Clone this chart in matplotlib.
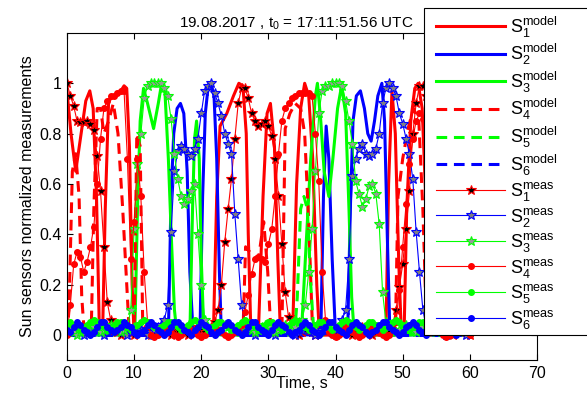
import numpy as np
import matplotlib
matplotlib.use("Agg")
import matplotlib.pyplot as plt
from matplotlib.patches import Rectangle

plt.rcParams['font.family'] = ['Liberation Sans', 'DejaVu Sans']
plt.rcParams['mathtext.fontset'] = 'custom'
plt.rcParams['mathtext.rm'] = 'Liberation Sans'
plt.rcParams['mathtext.it'] = 'Liberation Sans'

# Model curves (knots: time in s, normalized value)
t_s1_model = [0, 0.6, 1.3, 2.0, 2.8, 3.4, 3.9, 4.4, 4.8, 5.3, 5.7, 6.2, 7.0, 7.8, 8.5, 8.9, 9.3, 9.7, 10.0,
              21.8, 22.3, 22.8, 23.8, 24.8, 25.6, 26.2, 26.7, 27.0, 27.4, 28.5, 29.2, 29.8, 30.3, 30.9, 31.4, 31.8,
              33.6, 34.2, 34.8, 35.4, 36.0, 36.6, 37.2, 37.6, 47.5, 47.9, 48.4, 48.9, 49.4, 49.8, 50.2, 50.6,
              51.2, 51.8, 52.3, 52.9, 53.5, 54.0, 60]
s1_model = [0.97, 0.80, 0.65, 0.78, 0.93, 0.97, 0.90, 0.55, 0.05, 0.0, 0.5, 0.93, 0.95, 0.96, 0.99, 0.98, 0.75, 0.2, 0.0,
            0.0, 0.55, 0.83, 0.88, 0.95, 1.0, 0.99, 0.8, 0.4, 0.0, 0.0, 0.55, 0.88, 0.92, 0.75, 0.3, 0.0,
            0.0, 0.6, 0.9, 1.0, 0.95, 0.7, 0.2, 0.0, 0.0, 0.6, 0.97, 0.8, 0.3, 0.0, 0.0, 0.5,
            0.85, 0.98, 1.0, 0.9, 0.5, 0.0, 0.0]

t_s2_model = [0, 15.1, 15.5, 15.9, 16.4, 16.9, 17.4, 17.9, 18.3, 18.8, 19.8, 20.2, 20.6, 21.0, 21.4, 21.9, 22.3,
              22.7, 23.0, 37.8, 38.2, 38.6, 39.0, 39.5, 40.0, 41.8, 42.2, 42.6, 43.1, 43.7, 44.3, 44.8, 45.3,
              45.8, 46.3, 46.9, 47.3, 47.7, 48.1, 60]
s2_model = [0, 0, 0.55, 0.8, 0.9, 0.92, 0.88, 0.65, 0.25, 0, 0, 0.55, 0.88, 0.98, 1.0, 0.95, 0.7,
            0.25, 0, 0, 0.55, 0.83, 0.7, 0.3, 0, 0, 0.5, 0.85, 0.95, 0.97, 0.9, 0.8, 0.77,
            0.85, 0.95, 1.0, 0.85, 0.4, 0, 0]

t_s3_model = [0, 10.1, 10.5, 10.9, 11.4, 12.0, 12.9, 13.6, 14.1, 14.6, 15.1, 15.6, 16.0, 16.4, 18.3, 18.7, 19.0,
              19.3, 19.7, 20.0, 20.4, 34.9, 35.5, 36.3, 37.0, 37.3, 37.8, 38.3, 39.0, 39.6, 40.3, 40.9, 41.5,
              42.0, 42.4, 42.8, 60]
s3_model = [0, 0, 0.5, 0.85, 0.98, 0.92, 0.82, 0.92, 1.0, 0.96, 0.7, 0.35, 0.1, 0, 0, 0.5, 0.78,
            0.85, 0.7, 0.3, 0, 0, 0.3, 0.7, 0.95, 1.0, 0.85, 0.65, 0.55, 0.7, 0.9, 0.99, 0.88,
            0.5, 0.15, 0, 0]

t_s4_model = [0, 0.3, 0.8, 1.3, 1.8, 2.2, 2.6, 3.6, 4.0, 4.5, 5.0, 5.5, 6.2, 6.9, 7.6, 8.3, 8.9, 9.3, 10.0,
              10.4, 10.9, 11.3, 26.2, 26.6, 27.5, 28.5, 29.3, 29.9, 30.4, 32.0, 32.5, 33.2, 34.0, 34.8, 35.4,
              36.0, 36.6, 48.9, 49.3, 50.0, 50.8, 51.6, 52.4, 53.0, 53.6, 60]
s4_model = [0, 0.1, 0.65, 0.72, 0.55, 0.15, 0, 0, 0.5, 0.9, 0.9, 0.8, 0.85, 0.92, 0.8, 0.5, 0.2, 0, 0,
            0.8, 0.75, 0, 0, 0.35, 0.32, 0.3, 0.45, 0.25, 0, 0, 0.82, 0.88, 0.92, 0.9, 0.8,
            0.45, 0, 0, 0.55, 0.7, 0.82, 0.9, 0.85, 0.5, 0, 0]

t_s5_model = [0, 33.9, 34.3, 34.8, 35.3, 35.8, 36.3, 36.8, 60]
s5_model = [0, 0, 0.15, 0.5, 0.55, 0.5, 0.2, 0, 0]

t_s6_model = [0, 60]
s6_model = [0, 0]

# Measurements, sampled every 0.5 s from 0 to 60 s
t_meas = np.arange(0, 60.5, 0.5)

s1_meas = [1.00, 0.95, 0.91, 0.85, 0.845, 0.845, 0.85, 0.84, 0.815, 0.71,
           0.57, 0.35, 0.13, 0.06, 0.02, 0.01, 0.00, 0.01, 0.02, 0.01,
           0.00, 0.01, 0.02, 0.02, 0.01, 0.00, 0.01, 0.02, 0.03, 0.02,
           0.01, 0.00, 0.01, 0.02, 0.02, 0.01, 0.00, 0.01, 0.02, 0.03,
           0.02, 0.01, 0.02, 0.03, 0.05, 0.10, 0.20, 0.37, 0.50, 0.62,
           0.78, 0.92, 0.98, 0.98, 0.94, 0.88, 0.85, 0.83, 0.84, 0.85,
           0.83, 0.79, 0.70, 0.55, 0.36, 0.17, 0.07, 0.02, 0.01, 0.00,
           0.01, 0.02, 0.02, 0.01, 0.00, 0.01, 0.02, 0.03, 0.02, 0.01,
           0.00, 0.01, 0.02, 0.02, 0.01, 0.00, 0.01, 0.02, 0.03, 0.02,
           0.01, 0.00, 0.01, 0.02, 0.03, 0.02, 0.02, 0.04, 0.10, 0.19,
           0.28, 0.42, 0.57, 0.80, 0.92, 0.99, 0.99, 0.95, 0.85, 0.70,
           0.50, 0.30, 0.12, 0.04, 0.01, 0.00, 0.01, 0.02, 0.02, 0.01,
           0.00]

s2_meas = [0.01, 0.02, 0.03, 0.02, 0.01, 0.00, 0.01, 0.02, 0.03, 0.02,
           0.01, 0.00, 0.01, 0.02, 0.03, 0.03, 0.02, 0.01, 0.00, 0.01,
           0.02, 0.03, 0.02, 0.01, 0.00, 0.01, 0.02, 0.03, 0.04, 0.06,
           0.12, 0.41, 0.65, 0.73, 0.75, 0.74, 0.72, 0.71, 0.74, 0.78,
           0.88, 0.97, 0.99, 1.00, 0.96, 0.92, 0.87, 0.80, 0.76, 0.72,
           0.48, 0.30, 0.12, 0.04, 0.02, 0.01, 0.00, 0.01, 0.02, 0.03,
           0.02, 0.01, 0.00, 0.01, 0.02, 0.03, 0.02, 0.01, 0.00, 0.01,
           0.02, 0.03, 0.02, 0.01, 0.00, 0.01, 0.02, 0.03, 0.02, 0.01,
           0.02, 0.03, 0.06, 0.10, 0.30, 0.63, 0.70, 0.74, 0.76, 0.72,
           0.71, 0.72, 0.74, 0.80, 0.92, 0.98, 1.00, 0.98, 0.95, 0.88,
           0.84, 0.78, 0.72, 0.62, 0.41, 0.25, 0.10, 0.03, 0.01, 0.02,
           0.03, 0.02, 0.01, 0.00, 0.01, 0.02, 0.03, 0.02, 0.01, 0.00,
           0.01]

s3_meas = [0.03, 0.02, 0.01, 0.00, 0.01, 0.02, 0.03, 0.04, 0.03, 0.02,
           0.01, 0.02, 0.03, 0.04, 0.03, 0.02, 0.01, 0.02, 0.03, 0.10,
           0.42, 0.68, 0.80, 0.94, 0.99, 1.00, 1.00, 1.00, 1.00, 0.98,
           0.95, 0.86, 0.72, 0.62, 0.55, 0.52, 0.54, 0.57, 0.60, 0.40,
           0.20, 0.06, 0.03, 0.02, 0.01, 0.02, 0.03, 0.04, 0.03, 0.02,
           0.01, 0.02, 0.03, 0.04, 0.03, 0.02, 0.01, 0.02, 0.03, 0.04,
           0.03, 0.02, 0.01, 0.02, 0.03, 0.04, 0.03, 0.02, 0.03, 0.05,
           0.06, 0.12, 0.25, 0.42, 0.65, 0.88, 0.97, 0.99, 0.99, 1.00,
           1.00, 1.00, 0.99, 0.93, 0.85, 0.76, 0.61, 0.56, 0.51, 0.54,
           0.59, 0.60, 0.56, 0.44, 0.17, 0.05, 0.03, 0.02, 0.01, 0.02,
           0.03, 0.04, 0.03, 0.02, 0.01, 0.02, 0.03, 0.04, 0.03, 0.02,
           0.01, 0.02, 0.03, 0.04, 0.03, 0.02, 0.01, 0.02, 0.03, 0.02,
           0.01]

s4_meas = [0.00, 0.12, 0.28, 0.33, 0.31, 0.25, 0.29, 0.35, 0.43, 0.60,
           0.78, 0.90, 0.93, 0.95, 0.95, 0.96, 0.97, 0.97, 0.70, 0.30,
           0.45, 0.70, 0.55, 0.25, 0.05, 0.00, -0.01, 0.00, 0.01, 0.02,
           0.02, 0.01, 0.00, -0.01, 0.00, 0.02, 0.03, 0.02, 0.01, 0.00,
           -0.01, 0.00, 0.01, 0.02, 0.03, 0.02, 0.01, 0.00, -0.01, 0.00,
           0.01, 0.02, 0.04, 0.09, 0.16, 0.24, 0.30, 0.31, 0.30, 0.29,
           0.36, 0.42, 0.55, 0.72, 0.85, 0.90, 0.92, 0.94, 0.95, 0.96,
           0.96, 0.96, 0.96, 0.95, 0.80, 0.61, 0.25, 0.06, 0.01, 0.00,
           -0.01, 0.00, 0.02, 0.03, 0.02, 0.01, 0.00, -0.01, 0.00, 0.01,
           0.02, 0.03, 0.02, 0.01, 0.00, -0.01, 0.00, 0.02, 0.05, 0.18,
           0.35, 0.52, 0.68, 0.78, 0.85, 0.88, 0.86, 0.72, 0.50, 0.30,
           0.10, 0.02, 0.00, -0.01, 0.00, 0.01, 0.02, 0.03, 0.02, 0.01,
           0.00]

s5_meas = [0.04, 0.05, 0.04, 0.03, 0.02, 0.03, 0.04, 0.05, 0.06, 0.05,
           0.04, 0.03, 0.02, 0.03, 0.04, 0.05, 0.05, 0.04, 0.03, 0.02,
           0.03, 0.04, 0.05, 0.06, 0.05, 0.04, 0.03, 0.02, 0.03, 0.04,
           0.05, 0.05, 0.04, 0.03, 0.02, 0.03, 0.04, 0.05, 0.06, 0.05,
           0.04, 0.03, 0.02, 0.03, 0.04, 0.05, 0.05, 0.04, 0.03, 0.02,
           0.03, 0.04, 0.05, 0.06, 0.05, 0.04, 0.03, 0.02, 0.03, 0.04,
           0.05, 0.05, 0.04, 0.03, 0.02, 0.03, 0.04, 0.05, 0.06, 0.05,
           0.04, 0.03, 0.02, 0.03, 0.04, 0.05, 0.05, 0.04, 0.03, 0.02,
           0.03, 0.04, 0.05, 0.06, 0.05, 0.04, 0.03, 0.02, 0.03, 0.04,
           0.05, 0.05, 0.04, 0.03, 0.02, 0.03, 0.04, 0.05, 0.06, 0.05,
           0.04, 0.03, 0.02, 0.03, 0.04, 0.05, 0.05, 0.04, 0.03, 0.02,
           0.03, 0.04, 0.05, 0.06, 0.05, 0.04, 0.03, 0.02, 0.03, 0.04,
           0.05]

s6_meas = [0.02, 0.01, 0.03, 0.05, 0.04, 0.02, 0.01, 0.00, 0.01, 0.03,
           0.05, 0.05, 0.03, 0.02, 0.01, 0.02, 0.03, 0.05, 0.04, 0.03,
           0.01, 0.00, 0.01, 0.02, 0.04, 0.05, 0.04, 0.02, 0.01, 0.00,
           0.01, 0.03, 0.05, 0.05, 0.04, 0.02, 0.01, 0.00, 0.02, 0.03,
           0.05, 0.04, 0.03, 0.01, 0.00, 0.01, 0.02, 0.04, 0.05, 0.04,
           0.02, 0.01, 0.00, 0.01, 0.03, 0.05, 0.05, 0.03, 0.02, 0.01,
           0.00, 0.02, 0.04, 0.05, 0.04, 0.03, 0.01, 0.00, 0.01, 0.02,
           0.04, 0.05, 0.04, 0.02, 0.01, 0.00, 0.01, 0.03, 0.05, 0.05,
           0.03, 0.02, 0.01, 0.00, 0.02, 0.04, 0.05, 0.04, 0.03, 0.01,
           0.00, 0.01, 0.02, 0.04, 0.05, 0.05, 0.03, 0.02, 0.01, 0.00,
           0.01, 0.03, 0.04, 0.05, 0.04, 0.02, 0.01, 0.00, 0.01, 0.02,
           0.04, 0.05, 0.05, 0.03, 0.02, 0.01, 0.00, 0.01, 0.03, 0.04,
           0.05]

fig = plt.figure(figsize=(5.87, 3.94), dpi=100)
ax = fig.add_axes([0.1141, 0.0863, 0.8007, 0.830])

lw_model = 2.2
dash = (3.5, 2.2)

# model curves
ax.plot(t_s1_model, s1_model, color='r', lw=lw_model, label=r'$\mathrm{S}_1^{\mathrm{model}}$')
ax.plot(t_s2_model, s2_model, color='b', lw=lw_model, label=r'$\mathrm{S}_2^{\mathrm{model}}$')
ax.plot(t_s3_model, s3_model, color='#00ff00', lw=lw_model, label=r'$\mathrm{S}_3^{\mathrm{model}}$')
ax.plot(t_s4_model, s4_model, color='r', lw=lw_model, dashes=dash, label=r'$\mathrm{S}_4^{\mathrm{model}}$')
ax.plot(t_s5_model, s5_model, color='#00ff00', lw=lw_model, dashes=dash, label=r'$\mathrm{S}_5^{\mathrm{model}}$')
ax.plot(t_s6_model, s6_model, color='b', lw=lw_model, dashes=dash, label=r'$\mathrm{S}_6^{\mathrm{model}}$')

# measurements
ax.plot(t_meas, s1_meas, color='r', lw=0.8, marker='*', ms=7, mfc='k', mec='r', mew=0.8,
        label=r'$\mathrm{S}_1^{\mathrm{meas}}$')
ax.plot(t_meas, s2_meas, color='b', lw=0.8, marker='*', ms=7, mfc='0.5', mec='b', mew=0.8,
        label=r'$\mathrm{S}_2^{\mathrm{meas}}$')
ax.plot(t_meas, s3_meas, color='#00ff00', lw=0.8, marker='*', ms=7, mfc='0.6', mec='#00ff00', mew=0.8,
        label=r'$\mathrm{S}_3^{\mathrm{meas}}$')
ax.plot(t_meas, s4_meas, color='r', lw=0.8, marker='o', ms=4, mfc='r', mec='r',
        label=r'$\mathrm{S}_4^{\mathrm{meas}}$')
ax.plot(t_meas, s5_meas, color='#00ff00', lw=0.8, marker='o', ms=4, mfc='#00ff00', mec='#00ff00',
        label=r'$\mathrm{S}_5^{\mathrm{meas}}$')
ax.plot(t_meas, s6_meas, color='b', lw=0.8, marker='o', ms=4, mfc='b', mec='b',
        label=r'$\mathrm{S}_6^{\mathrm{meas}}$')

ax.set_xlim(0, 70)
ax.set_ylim(-0.1, 1.2)
ax.set_xticks(range(0, 71, 10))
ax.set_yticks([0, 0.2, 0.4, 0.6, 0.8, 1])
ax.set_yticklabels(['0', '0.2', '0.4', '0.6', '0.8', '1'])
ax.tick_params(direction='in', top=True, right=True, labelsize=11.5, length=4, width=0.8, pad=4)
for sp in ax.spines.values():
    sp.set_linewidth(0.8)

ax.set_xlabel('Time, s', fontsize=11.5, labelpad=-3)
ax.set_ylabel('Sun sensors normalized measurements', fontsize=11.5, labelpad=3)
ax.set_title(r'19.08.2017 , t$_0$ = 17:11:51.56 UTC', fontsize=11, pad=4, x=0.487)

# legend box runs past the right edge of the figure
W, H = 587.0, 394.0
box = Rectangle((424 / W, 1 - 335 / H), (600 - 424) / W, (335 - 8) / H, transform=fig.transFigure,
                facecolor='white', edgecolor='k', lw=0.8, zorder=4)
fig.add_artist(box)

leg = fig.legend(loc='upper left', bbox_to_anchor=(431 / W, 1 - 9 / H), fontsize=13,
                 handlelength=3.8, handletextpad=0.25, labelspacing=0.14, borderaxespad=0,
                 borderpad=0.3, frameon=False, numpoints=1)
leg.set_zorder(5)

fig.savefig('out.png', dpi=100)
